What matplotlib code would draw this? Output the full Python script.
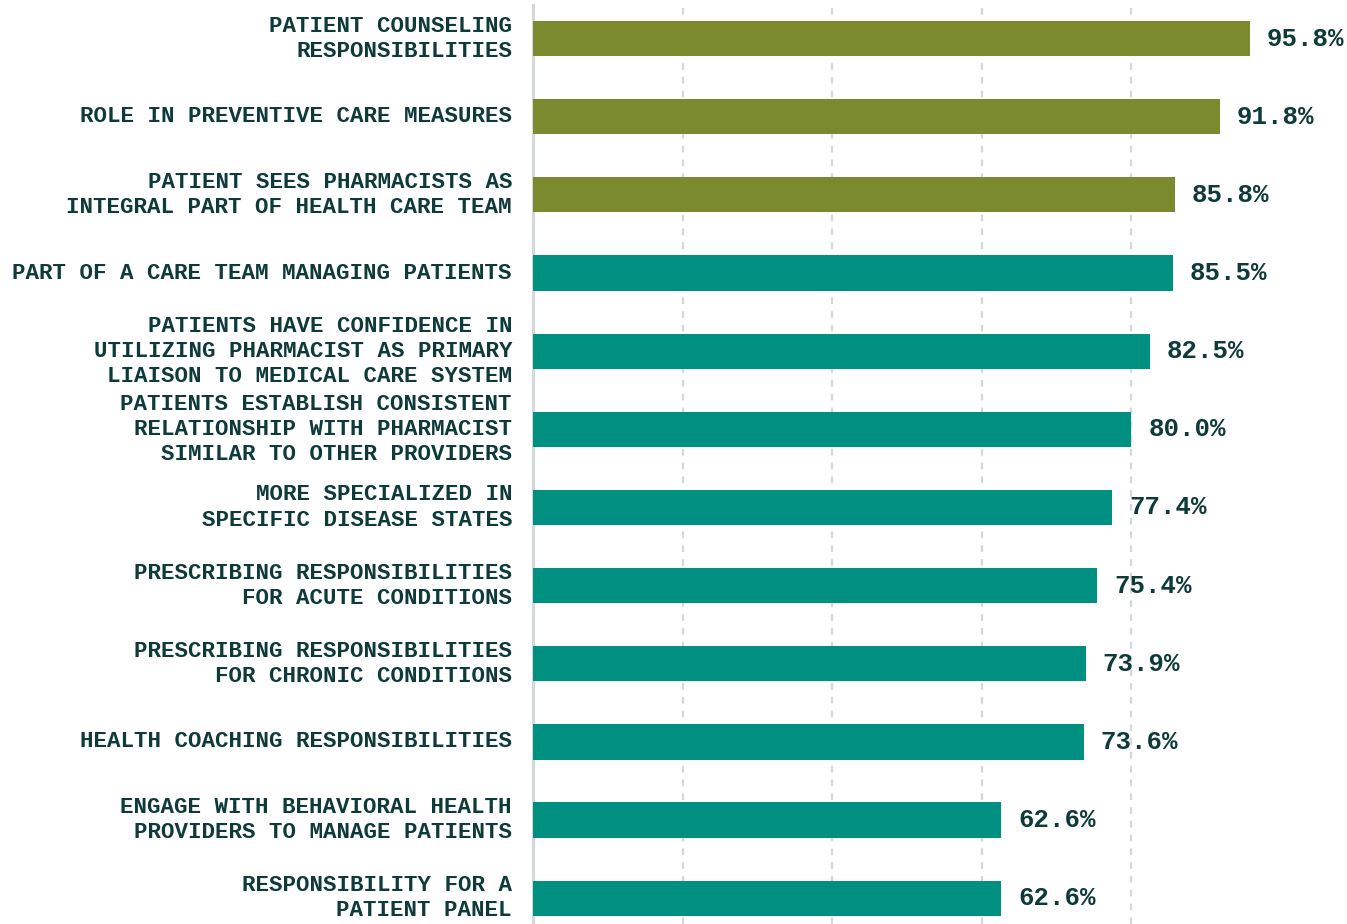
import matplotlib
matplotlib.use("Agg")
import matplotlib.pyplot as plt

categories = [
    "PATIENT COUNSELING\nRESPONSIBILITIES",
    "ROLE IN PREVENTIVE CARE MEASURES",
    "PATIENT SEES PHARMACISTS AS\nINTEGRAL PART OF HEALTH CARE TEAM",
    "PART OF A CARE TEAM MANAGING PATIENTS",
    "PATIENTS HAVE CONFIDENCE IN\nUTILIZING PHARMACIST AS PRIMARY\nLIAISON TO MEDICAL CARE SYSTEM",
    "PATIENTS ESTABLISH CONSISTENT\nRELATIONSHIP WITH PHARMACIST\nSIMILAR TO OTHER PROVIDERS",
    "MORE SPECIALIZED IN\nSPECIFIC DISEASE STATES",
    "PRESCRIBING RESPONSIBILITIES\nFOR ACUTE CONDITIONS",
    "PRESCRIBING RESPONSIBILITIES\nFOR CHRONIC CONDITIONS",
    "HEALTH COACHING RESPONSIBILITIES",
    "ENGAGE WITH BEHAVIORAL HEALTH\nPROVIDERS TO MANAGE PATIENTS",
    "RESPONSIBILITY FOR A\nPATIENT PANEL",
]
values = [95.8, 91.8, 85.8, 85.5, 82.5, 80.0, 77.4, 75.4, 73.9, 73.6, 62.6, 62.6]
groups = ["patient", "patient", "patient"] + ["care"] * 9

group_colors = {"patient": "#7b892f", "care": "#009082"}
text_color = "#0e3a3a"
grid_ticks = [20, 40, 60, 80]

W, H = 1347, 924
fig = plt.figure(figsize=(W / 100, H / 100), dpi=100)
ax = fig.add_axes([533 / W, 0.0, (1281 - 533) / W, 1 - 5 / H])

ypos = list(range(len(categories)))
ax.barh(ypos, values, height=0.45,
        color=[group_colors[g] for g in groups], zorder=3)

ax.set_xlim(0, 100)
ax.set_ylim(11.33, -0.43)

for gx in grid_ticks:
    ax.axvline(gx, color="#d3d8d8", lw=1.6, linestyle=(0, (3, 3.2)), zorder=1)

for s in ["top", "right", "bottom"]:
    ax.spines[s].set_visible(False)
ax.spines["left"].set_color("#d3d8d8")
ax.spines["left"].set_linewidth(2.2)
ax.set_xticks([])
ax.set_yticks([])

mono = "Liberation Mono"
for y, label, v in zip(ypos, categories, values):
    ax.annotate(label, xy=(0, y), xycoords="data", xytext=(-21, 0),
                textcoords="offset pixels", ha="right", va="center",
                fontsize=16.2, fontfamily=mono, fontweight="bold",
                color=text_color, linespacing=1.26, annotation_clip=False)
    ax.annotate(f"{v:.1f}%", xy=(v, y), xycoords="data", xytext=(17, 0),
                textcoords="offset pixels", ha="left", va="center",
                fontsize=18.5, fontfamily=mono, fontweight="bold",
                color=text_color, annotation_clip=False)

fig.savefig("out.png", dpi=100, facecolor="white")
